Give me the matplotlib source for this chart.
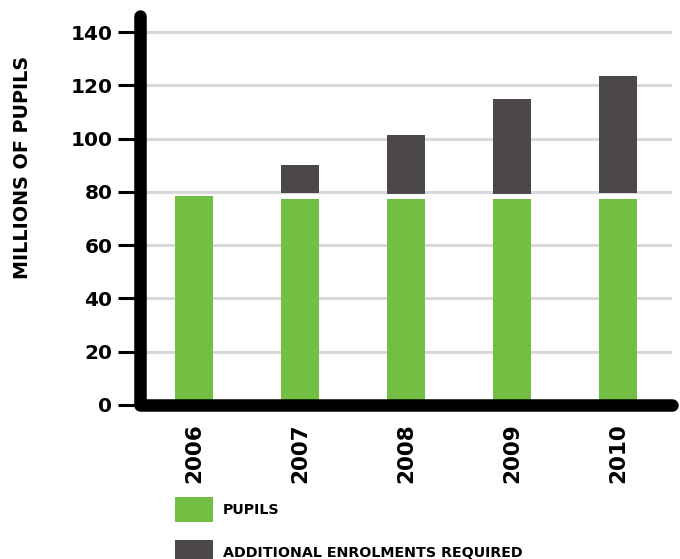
import matplotlib.pyplot as plt

plt.rcParams['font.family'] = ['DejaVu Sans']

years = ['2006', '2007', '2008', '2009', '2010']
pupils = [78.5, 77.3, 77.3, 77.3, 77.3]
# extra enrolments sit on their own base, just above the 80 line
additional_base = [0, 79.7, 79.3, 79.3, 79.7]
additional = [0, 10.4, 22.1, 35.6, 43.8]
yticks = [0, 20, 40, 60, 80, 100, 120, 140]

green = '#73bf43'
dark = '#4b474a'

fig = plt.figure(figsize=(6.8, 5.59), dpi=100)
ax = fig.add_axes([0.206, 0.2755, 0.782, 0.6955])

x = range(len(years))
b1 = ax.bar(x, pupils, width=0.36, color=green, label='PUPILS', zorder=2)
b2 = ax.bar(x, additional, width=0.36, bottom=additional_base, color=dark,
            label='ADDITIONAL ENROLMENTS REQUIRED', zorder=2)

ax.set_xlim(-0.51, 4.51)
ax.set_ylim(0, 146)

for v in yticks[1:]:
    ax.axhline(v, color='#d9d9d9', lw=2.2, zorder=1)

for s in ax.spines.values():
    s.set_visible(False)
# thick rounded axis frame
ax.plot([0, 0, 1], [1, 0, 0], transform=ax.transAxes, color='black', lw=9,
        solid_capstyle='round', solid_joinstyle='round', clip_on=False, zorder=5)

ax.set_yticks(yticks)
ax.set_yticklabels([str(v) for v in yticks], fontsize=14.5, fontweight='bold')
ax.tick_params(axis='y', length=16, width=2.2, pad=4, color='black')

ax.set_xticks(list(x))
ax.set_xticklabels(years, rotation=90, fontsize=15.5, fontweight='bold')
ax.tick_params(axis='x', length=0, pad=13)

ax.set_ylabel('MILLIONS OF PUPILS', fontsize=13.8, fontweight='bold')
ax.yaxis.set_label_coords(-0.203, 0.612)

fig.legend(handles=[b1, b2], loc='upper left', bbox_to_anchor=(0.257, 0.111),
           frameon=False, prop={'size': 10.3, 'weight': 'bold'},
           handlelength=2.7, handleheight=2.3, handletextpad=0.65,
           labelspacing=1.3, borderpad=0, borderaxespad=0)

fig.savefig('out.png', dpi=100)
